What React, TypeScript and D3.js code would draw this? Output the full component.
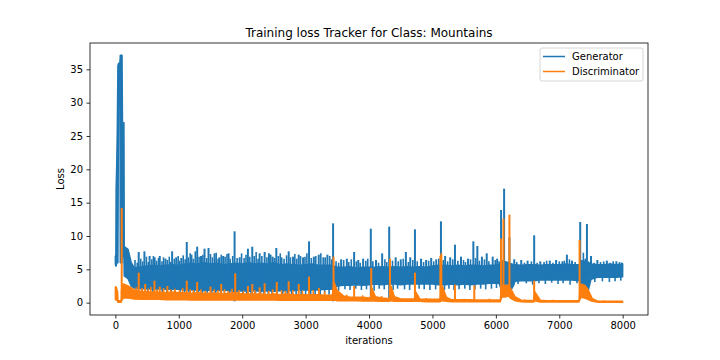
import React, { useEffect, useRef } from 'react';
import * as d3 from 'd3';

// envelope of the dense loss traces: [iteration, low, high]
const genBand: [number, number, number][] = [
  [0, 5.8, 7.0], [8, 5.5, 7.0], [12, 5.5, 17], [22, 6, 21], [30, 6, 25.5], [40, 6, 35.5],
  [50, 33, 35.9], [72, 33, 36], [78, 6, 37.1], [105, 6, 37.1], [112, 7, 27], [135, 7, 27],
  [140, 4, 8.4], [200, 3.6, 8.0], [250, 2.5, 6.0], [300, 2.2, 5.2], [400, 2.1, 5.4],
  [500, 2.1, 5.5], [600, 2.0, 5.6], [700, 2.1, 5.5], [800, 2.0, 5.6], [900, 2.0, 5.7],
  [1000, 2.0, 5.6], [1100, 1.9, 5.8], [1200, 1.9, 5.9], [1300, 1.9, 5.8], [1400, 1.8, 6.0],
  [1500, 1.9, 5.8], [1600, 1.8, 5.9], [1700, 1.9, 5.7], [1800, 1.8, 5.8], [1900, 1.7, 5.9],
  [2000, 1.8, 5.8], [2100, 1.7, 6.0], [2200, 1.8, 5.8], [2300, 1.7, 5.9], [2400, 1.8, 5.8],
  [2500, 1.7, 6.0], [2600, 1.8, 5.7], [2700, 1.8, 5.8], [2800, 1.8, 5.7], [2900, 1.9, 5.6],
  [3000, 1.9, 5.7], [3100, 1.9, 5.8], [3200, 1.9, 5.6], [3300, 2.0, 5.6], [3400, 2.0, 5.6],
  [3500, 2.5, 5.3], [3600, 2.6, 5.3], [3700, 2.6, 5.4], [3800, 2.7, 5.2], [3900, 2.6, 5.3],
  [4000, 2.7, 5.3], [4100, 2.8, 5.3], [4200, 2.7, 5.4], [4300, 2.8, 5.3], [4400, 2.8, 5.4],
  [4500, 2.7, 5.3], [4600, 2.8, 5.4], [4700, 2.8, 5.3], [4800, 2.8, 5.4], [4900, 2.8, 5.3],
  [5000, 2.8, 5.5], [5100, 2.7, 5.6], [5200, 2.7, 5.6], [5300, 2.8, 5.5], [5400, 2.7, 5.6],
  [5500, 2.8, 5.5], [5600, 2.7, 5.6], [5700, 2.8, 5.6], [5800, 2.8, 5.5], [5900, 2.9, 5.6],
  [6000, 2.9, 5.6], [6050, 2.9, 5.7], [6100, 1.6, 6.3], [6200, 1.3, 6.0], [6280, 2.6, 5.7],
  [6300, 3.2, 5.7], [6400, 3.3, 5.6], [6500, 3.3, 5.7], [6600, 3.3, 5.7], [6700, 3.4, 5.6],
  [6800, 3.4, 5.7], [6900, 3.4, 5.7], [7000, 3.4, 5.7], [7100, 3.4, 5.8], [7200, 3.4, 5.7],
  [7320, 3.3, 5.7], [7350, 1.3, 6.3], [7450, 1.6, 6.1], [7500, 3.5, 5.8], [7600, 3.8, 5.7],
  [7700, 3.8, 5.7], [7800, 3.8, 5.8], [7900, 3.8, 5.7], [7999, 3.9, 5.8],
];

const discBand: [number, number, number][] = [
  [0, 0.5, 2.4], [15, 0.4, 2.3], [35, 0.2, 1.6], [42, 0.05, 0.3], [90, 0.05, 0.3],
  [98, 0.3, 2.0], [125, 0.7, 2.8], [200, 0.7, 2.5], [300, 0.55, 1.9], [400, 0.5, 1.7],
  [500, 0.5, 1.6], [600, 0.5, 1.6], [700, 0.5, 1.6], [800, 0.45, 1.5], [900, 0.45, 1.6],
  [1000, 0.45, 1.5], [1100, 0.45, 1.5], [1200, 0.4, 1.4], [1300, 0.4, 1.5], [1400, 0.4, 1.4],
  [1500, 0.4, 1.4], [1600, 0.4, 1.4], [1700, 0.4, 1.3], [1800, 0.4, 1.4], [1900, 0.4, 1.5],
  [2000, 0.4, 1.3], [2100, 0.4, 1.3], [2200, 0.4, 1.3], [2300, 0.4, 1.3], [2400, 0.4, 1.2],
  [2500, 0.4, 1.3], [2600, 0.35, 1.2], [2700, 0.35, 1.3], [2800, 0.35, 1.2], [2900, 0.35, 1.2],
  [3000, 0.35, 1.2], [3100, 0.35, 1.2], [3200, 0.35, 1.2], [3300, 0.35, 1.1], [3420, 0.35, 1.1],
  [3450, 0.4, 3.0], [3500, 0.3, 1.8], [3600, 0.3, 1.0], [3700, 0.3, 0.8], [3800, 0.3, 0.8],
  [3900, 0.25, 0.8], [4020, 0.25, 0.7], [4045, 0.3, 2.2], [4100, 0.25, 0.9], [4200, 0.2, 0.7],
  [4320, 0.2, 0.6], [4345, 0.3, 2.5], [4400, 0.2, 0.9], [4500, 0.2, 0.55], [4600, 0.2, 0.55],
  [4715, 0.2, 0.55], [4735, 0.25, 1.6], [4800, 0.2, 0.55], [4900, 0.15, 0.5], [5000, 0.15, 0.5],
  [5120, 0.15, 0.5], [5155, 0.3, 2.5], [5220, 0.2, 0.8], [5300, 0.15, 0.45], [5400, 0.15, 0.42],
  [5500, 0.15, 0.42], [5600, 0.15, 0.42], [5700, 0.12, 0.4], [5800, 0.12, 0.4], [5900, 0.12, 0.4],
  [6000, 0.12, 0.4], [6070, 0.12, 0.4], [6090, 0.8, 2.5], [6150, 0.9, 2.6], [6200, 1.0, 2.6],
  [6240, 0.6, 2.0], [6300, 0.3, 0.9], [6400, 0.12, 0.38], [6500, 0.1, 0.33], [6595, 0.1, 0.33],
  [6615, 0.3, 1.6], [6700, 0.1, 0.38], [6800, 0.1, 0.3], [6900, 0.1, 0.3], [7000, 0.1, 0.3],
  [7100, 0.1, 0.3], [7200, 0.1, 0.3], [7310, 0.1, 0.3], [7340, 0.8, 2.8], [7400, 0.7, 2.6],
  [7450, 0.5, 2.0], [7520, 0.2, 0.6], [7600, 0.08, 0.25], [7700, 0.07, 0.22], [7800, 0.06, 0.2],
  [7900, 0.05, 0.2], [7999, 0.05, 0.2],
];

// tall single-iteration spikes: [iteration, loss]
const genSpikes: [number, number][] = [
  [368, 7.6], [458, 7.7], [540, 7.0], [620, 6.8], [700, 7.0], [790, 6.6], [895, 7.7], [960, 6.8],
  [1040, 6.7], [1126, 9.1], [1200, 7.2], [1290, 8.4], [1350, 7.0], [1406, 8.1], [1469, 8.2],
  [1564, 7.4], [1640, 6.8], [1700, 7.0], [1785, 7.4], [1880, 10.7], [1960, 6.8], [2090, 8.1],
  [2159, 8.4], [2275, 7.4], [2354, 7.6], [2422, 7.4], [2480, 6.9], [2538, 8.2], [2620, 6.8],
  [2733, 7.7], [2800, 6.9], [2891, 7.2], [2960, 6.8], [3054, 9.2], [3130, 6.9], [3207, 7.2],
  [3280, 6.8], [3344, 7.2], [3433, 11.9], [3560, 6.5], [3650, 6.6], [3765, 7.6], [3830, 6.4],
  [3907, 6.6], [4028, 11.1], [4110, 6.4], [4207, 7.4], [4318, 11.4], [4420, 6.8], [4500, 6.5],
  [4581, 7.6], [4650, 6.8], [4724, 11.0], [4820, 6.6], [4900, 6.4], [4980, 6.7], [5060, 6.5],
  [5134, 12.2], [5200, 7.0], [5280, 6.8], [5355, 8.7], [5450, 6.9], [5560, 6.6], [5645, 9.2],
  [5708, 8.5], [5780, 6.9], [5856, 7.4], [5950, 6.9], [6020, 6.6], [6082, 13.9], [6130, 17.1],
  [6214, 9.8], [6290, 6.5], [6400, 6.4], [6500, 6.3], [6604, 10.1], [6700, 6.2], [6850, 6.3],
  [6950, 6.4], [7050, 6.2], [7120, 7.2], [7200, 6.3], [7330, 12.1], [7436, 11.8], [7500, 7.0],
  [7600, 6.4], [7750, 6.3], [7900, 6.2], [7990, 6.0],
  [1880, 0.2], [3433, 0.2], [4028, 0.3], [4318, 0.5], [5134, 0.4], [6082, 0.5], [6150, 0.8],
  [7330, 0.6],
];

// ragged fringe of the generator trace, above and below the envelope
const genFringe: [number, number][] = [
  [310, 6.4], [345, 6.0], [400, 6.6], [430, 6.2], [490, 6.9], [520, 6.1], [575, 6.5], [600, 7.0],
  [650, 6.3], [680, 6.7], [735, 6.2], [760, 6.8], [820, 6.4], [850, 6.9], [870, 6.1], [930, 6.6],
  [990, 7.0], [1010, 6.3], [1070, 7.1], [1100, 6.5], [1150, 6.8], [1180, 7.4], [1230, 6.6],
  [1260, 7.7], [1320, 6.9], [1380, 7.2], [1440, 6.7], [1500, 7.3], [1530, 6.8], [1590, 7.5],
  [1620, 6.6], [1670, 7.2], [1730, 6.9], [1760, 7.3], [1810, 6.6], [1850, 7.0], [1920, 6.7],
  [1990, 7.4], [2030, 6.7], [2060, 7.2], [2120, 6.9], [2190, 7.0], [2220, 7.6], [2250, 6.6],
  [2310, 7.0], [2390, 6.8], [2450, 7.2], [2510, 6.7], [2570, 7.0], [2600, 7.4], [2660, 6.6],
  [2700, 7.1], [2760, 6.8], [2830, 7.3], [2860, 6.6], [2920, 7.0], [2990, 6.9], [3020, 7.4],
  [3090, 6.7], [3160, 7.0], [3240, 7.4], [3310, 6.8], [3380, 7.0], [3410, 6.5],
  [3480, 6.2], [3520, 6.0], [3600, 6.4], [3680, 6.1], [3720, 6.5], [3800, 6.2], [3860, 6.0],
  [3950, 6.3], [3980, 6.6], [4060, 6.2], [4150, 6.0], [4250, 6.5], [4280, 6.1], [4370, 6.3],
  [4460, 6.2], [4540, 6.6], [4620, 6.1], [4690, 6.4], [4760, 6.2], [4860, 6.1], [4940, 6.3],
  [5020, 6.2], [5100, 6.6], [5170, 6.4], [5240, 6.2], [5320, 6.5], [5400, 6.3], [5490, 6.4],
  [5520, 6.1], [5600, 6.5], [5680, 6.7], [5740, 6.3], [5820, 6.5], [5890, 6.2], [5990, 6.4],
  [6050, 6.2], [6330, 6.1], [6450, 6.0], [6560, 6.2], [6650, 6.0], [6760, 6.1], [6800, 6.3],
  [6900, 6.0], [7000, 6.2], [7080, 6.3], [7160, 6.5], [7250, 6.1], [7380, 7.5], [7410, 6.6],
  [7550, 6.0], [7650, 6.1], [7700, 6.2], [7800, 6.0], [7850, 6.2], [7950, 6.1],
  [330, 1.6], [420, 1.4], [510, 1.5], [590, 1.3], [660, 1.5], [740, 1.2], [810, 1.4], [880, 1.3],
  [940, 1.1], [1020, 1.3], [1090, 1.2], [1160, 1.0], [1240, 1.3], [1310, 1.1], [1370, 1.2],
  [1450, 1.0], [1520, 1.2], [1580, 1.1], [1660, 1.0], [1720, 1.3], [1800, 1.1], [1850, 1.2],
  [1940, 1.0], [2010, 1.2], [2070, 1.1], [2140, 1.0], [2210, 1.2], [2290, 1.0], [2340, 1.3],
  [2410, 1.1], [2470, 1.0], [2550, 1.2], [2640, 1.1], [2710, 1.0], [2780, 1.2], [2850, 1.0],
  [2930, 1.2], [3000, 1.1], [3080, 1.3], [3150, 1.2], [3230, 1.1], [3300, 1.3], [3370, 1.2],
  [3520, 1.8], [3620, 2.0], [3700, 1.9], [3790, 2.1], [3880, 1.9], [3960, 2.0], [4080, 1.8],
  [4160, 2.1], [4240, 2.0], [4380, 1.9], [4450, 2.1], [4560, 2.0], [4640, 1.9], [4790, 2.1],
  [4870, 2.0], [4960, 1.9], [5050, 2.0], [5190, 1.9], [5260, 2.1], [5340, 1.9], [5420, 2.0],
  [5510, 2.1], [5590, 1.9], [5670, 2.0], [5760, 2.1], [5840, 2.0], [5930, 2.1], [6010, 2.2],
  [6350, 2.8], [6480, 2.9], [6580, 2.7], [6680, 2.9], [6780, 2.8], [6880, 3.0], [6980, 2.8],
  [7060, 2.9], [7170, 2.7], [7280, 2.9], [7560, 3.1], [7680, 3.2], [7790, 3.1], [7880, 3.2],
  [7970, 3.3],
];

const discSpikes: [number, number][] = [
  [100, 14.2], [368, 4.5], [470, 2.8], [616, 3.3], [700, 2.4], [820, 2.5], [1126, 3.3],
  [1290, 3.1], [1500, 2.4], [1669, 2.8], [1890, 4.4], [2090, 2.5], [2159, 2.8], [2275, 2.3],
  [2354, 2.9], [2545, 3.1], [2733, 3.2], [2891, 2.8], [3054, 3.9], [3210, 2.2], [3440, 6.9],
  [3765, 2.5], [4035, 5.2], [4330, 6.6], [4724, 4.5], [5125, 7.0], [5140, 7.4], [5355, 2.7],
  [5660, 2.6], [6082, 9.6], [6120, 12.6], [6214, 13.2], [6604, 3.3], [7320, 9.4],
];

const discFringe: [number, number][] = [
  [330, 2.3], [420, 2.2], [520, 2.1], [560, 2.4], [660, 2.0], [760, 2.2], [870, 2.0], [940, 2.1],
  [1010, 1.9], [1060, 2.2], [1180, 2.0], [1230, 1.9], [1350, 2.0], [1420, 1.8], [1560, 2.0],
  [1620, 1.9], [1720, 2.0], [1780, 1.8], [1840, 2.1], [1950, 1.9], [2020, 1.8], [2200, 1.9],
  [2420, 1.8], [2480, 2.0], [2620, 1.9], [2680, 1.8], [2800, 1.9], [2950, 1.8], [3120, 1.9],
  [3300, 1.7], [3650, 1.2], [3900, 1.1], [4200, 1.0], [4450, 0.8], [4900, 0.7], [5500, 0.6],
  [5900, 0.6], [6450, 0.5], [6900, 0.45], [7700, 0.35],
];

const xTicks = [0, 1000, 2000, 3000, 4000, 5000, 6000, 7000, 8000];
const yTicks = [0, 5, 10, 15, 20, 25, 30, 35];
const seriesNames = ['Generator', 'Discriminator'];
const colors = ['#1f77b4', '#ff7f0e'];

const W = 720;
const H = 360;
const margin = { top: 43, right: 72, bottom: 45, left: 90 };

const LossChart: React.FC = () => {
  const svgRef: any = useRef<SVGSVGElement>(null);

  useEffect(() => {
    if (!svgRef.current) return;
    const svg = d3.select(svgRef.current);
    svg.selectAll('*').remove();

    const width = W - margin.left - margin.right;
    const height = H - margin.top - margin.bottom;
    const font = '"DejaVu Sans", sans-serif';

    const x = d3.scaleLinear().domain([-400, 8399]).range([0, width]);
    const y = d3.scaleLinear().domain([-1.85, 38.95]).range([height, 0]);

    const g = svg.append('g').attr('transform', `translate(${margin.left},${margin.top})`);

    const area = d3
      .area<[number, number, number]>()
      .x(d => x(d[0]))
      .y0(d => y(d[1]))
      .y1(d => y(d[2]));

    const midAt = (band: [number, number, number][], it: number) => {
      const i = Math.min(Math.max(d3.bisector((d: any) => d[0]).left(band, it), 1), band.length - 1);
      const a = band[i - 1];
      const b = band[i];
      const t = (it - a[0]) / (b[0] - a[0] || 1);
      return (a[1] + (b[1] - a[1]) * t + a[2] + (b[2] - a[2]) * t) / 2;
    };

    const drawSeries = (
      band: [number, number, number][],
      spikes: [number, number][],
      fringe: [number, number][],
      color: string
    ) => {
      const s = g.append('g');
      s.append('path')
        .attr('d', area(band)!)
        .attr('fill', color)
        .attr('stroke', color)
        .attr('stroke-width', 1.5)
        .attr('stroke-linejoin', 'round');
      const spikeLines = (data: [number, number][], w: number, cls: string) =>
        s.selectAll(`line.${cls}`)
          .data(data)
          .join('line')
          .attr('class', cls)
          .attr('x1', d => x(d[0]))
          .attr('x2', d => x(d[0]))
          .attr('y1', d => y(midAt(band, d[0])))
          .attr('y2', d => y(d[1]))
          .attr('stroke', color)
          .attr('stroke-width', w);
      spikeLines(fringe, 1.6, 'fringe');
      spikeLines(spikes, 2, 'spike');
    };

    drawSeries(genBand, genSpikes, genFringe, colors[0]);
    drawSeries(discBand, discSpikes, discFringe, colors[1]);

    // axes
    const xAxis = g
      .append('g')
      .attr('transform', `translate(0,${height})`)
      .call(
        d3.axisBottom(x).tickValues(xTicks).tickFormat(d3.format('d')).tickSize(3.5).tickPadding(3.5).tickSizeOuter(0)
      );
    const yAxis = g
      .append('g')
      .call(d3.axisLeft(y).tickValues(yTicks).tickFormat(d3.format('d')).tickSize(3.5).tickPadding(3.5).tickSizeOuter(0));
    [xAxis, yAxis].forEach(ax => {
      ax.select('.domain').remove();
      ax.selectAll('line').attr('stroke', '#000').attr('stroke-width', 0.8);
      ax.selectAll('text').attr('font-family', font).attr('font-size', 10).attr('fill', '#000');
    });

    g.append('rect')
      .attr('width', width)
      .attr('height', height)
      .attr('fill', 'none')
      .attr('stroke', '#000')
      .attr('stroke-width', 0.8);

    svg
      .append('text')
      .attr('x', margin.left + width / 2)
      .attr('y', margin.top - 6)
      .attr('text-anchor', 'middle')
      .attr('font-family', font)
      .attr('font-size', 12)
      .text('Training loss Tracker for Class: Mountains');

    svg
      .append('text')
      .attr('x', margin.left + width / 2)
      .attr('y', 344)
      .attr('text-anchor', 'middle')
      .attr('font-family', font)
      .attr('font-size', 10)
      .text('iterations');

    svg
      .append('text')
      .attr('transform', `translate(64,${margin.top + height / 2}) rotate(-90)`)
      .attr('text-anchor', 'middle')
      .attr('font-family', font)
      .attr('font-size', 10)
      .text('Loss');

    // legend
    const lg = svg.append('g').attr('transform', 'translate(540,48)');
    lg.append('rect')
      .attr('width', 103)
      .attr('height', 33)
      .attr('rx', 2)
      .attr('fill', 'rgba(255,255,255,0.8)')
      .attr('stroke', '#cccccc')
      .attr('stroke-width', 0.8);
    seriesNames.forEach((name, i) => {
      const yy = 8.5 + i * 15;
      lg.append('line')
        .attr('x1', 3)
        .attr('x2', 25)
        .attr('y1', yy)
        .attr('y2', yy)
        .attr('stroke', colors[i])
        .attr('stroke-width', 1.5);
      lg.append('text')
        .attr('x', 32)
        .attr('y', yy + 3.6)
        .attr('font-family', font)
        .attr('font-size', 10)
        .text(name);
    });
  }, []);

  return (
    <svg ref={svgRef} width={W} height={H} style={{ position: 'absolute', left: 0, top: 0, background: '#fff' }}></svg>
  );
};

const App = () => {
  return (
    <div>
      <LossChart />
    </div>
  );
};

export default App;
